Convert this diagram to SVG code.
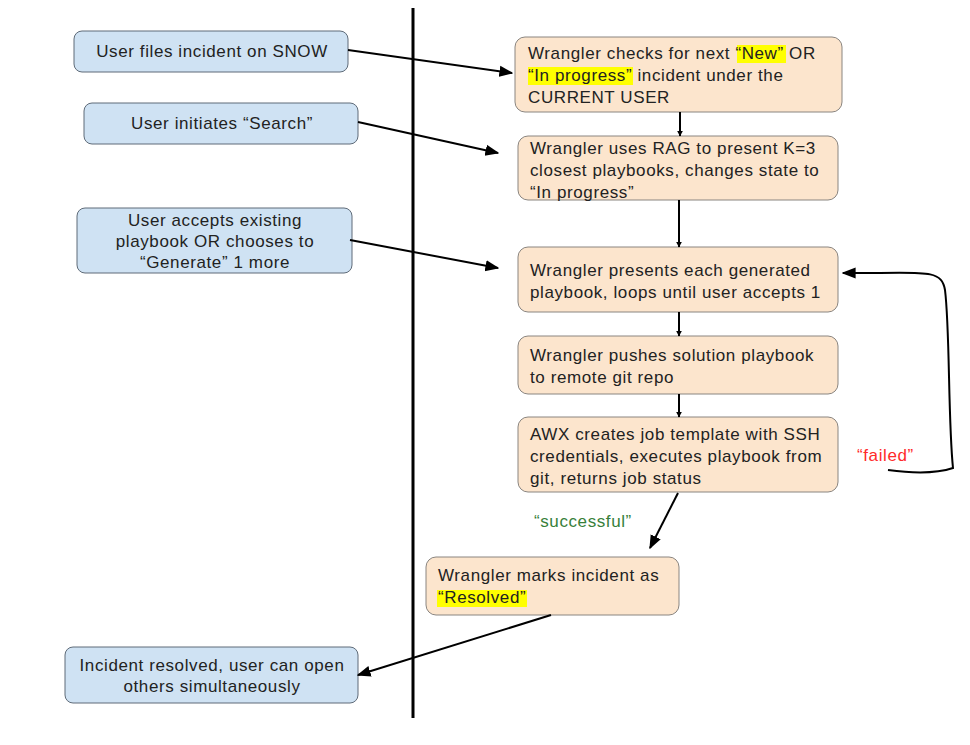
<svg xmlns="http://www.w3.org/2000/svg" width="970" height="745" viewBox="0 0 970 745">
<style>
.u{fill:#cfe2f3;stroke:#5f6b78;stroke-width:1}
.w{fill:#fce5cd;stroke:#8a8580;stroke-width:1}
text{font-family:"Liberation Sans",Arial,sans-serif;font-size:17px;letter-spacing:0.6px;fill:#222}
.c{text-anchor:middle}
.hl{fill:#ffff00}
.ln{stroke:#000;stroke-width:2;fill:none}
</style>
<defs>
<marker id="ah" viewBox="0 0 10 10" refX="9" refY="5" markerWidth="6" markerHeight="6" orient="auto" markerUnits="userSpaceOnUse">
<path d="M0,0 L10,5 L0,10 z" fill="#000"/>
</marker>
<marker id="ahb" viewBox="0 0 10 10" refX="9" refY="5" markerWidth="14" markerHeight="14" orient="auto" markerUnits="userSpaceOnUse">
<path d="M0,1 L10,5 L0,9 z" fill="#000"/>
</marker>
</defs>
<rect width="970" height="745" fill="#fff"/>
<line x1="413" y1="8" x2="413" y2="718" stroke="#000" stroke-width="3"/>

<g id="u1"><rect class="u" x="74" y="31" width="274" height="41" rx="8"/><text class="c" x="212" y="57">User files incident on SNOW</text></g>
<g id="u2"><rect class="u" x="84" y="103" width="274" height="41" rx="8"/><text class="c" x="222" y="129">User initiates “Search”</text></g>
<g id="u3"><rect class="u" x="77" y="208" width="275" height="65" rx="8"/><text class="c" x="215" y="226">User accepts existing<tspan x="215" dy="21">playbook OR chooses to</tspan><tspan x="215" dy="21">“Generate” 1 more</tspan></text></g>
<g id="u4"><rect class="u" x="65" y="647" width="293" height="56" rx="8"/><text class="c" x="212" y="671">Incident resolved, user can open<tspan x="212" dy="21">others simultaneously</tspan></text></g>

<g id="w1"><rect class="w" x="515" y="37" width="327" height="75" rx="10"/>
<rect class="hl" x="737" y="45" width="49" height="18"/><rect class="hl" x="528" y="67" width="105" height="18"/>
<text x="528" y="59">Wrangler checks for next “New” OR<tspan x="528" dy="22">“In progress” incident under the</tspan><tspan x="528" dy="22">CURRENT USER</tspan></text></g>
<g id="w2"><rect class="w" x="518" y="136" width="320" height="64" rx="10"/>
<text x="530" y="154">Wrangler uses RAG to present K=3<tspan x="530" dy="22">closest playbooks, changes state to</tspan><tspan x="530" dy="22">“In progress”</tspan></text></g>
<g id="w3"><rect class="w" x="518" y="247" width="320" height="65" rx="10"/>
<text x="530" y="276">Wrangler presents each generated<tspan x="530" dy="22">playbook, loops until user accepts 1</tspan></text></g>
<g id="w4"><rect class="w" x="518" y="336" width="320" height="58" rx="10"/>
<text x="530" y="361">Wrangler pushes solution playbook<tspan x="530" dy="22">to remote git repo</tspan></text></g>
<g id="w5"><rect class="w" x="518" y="417" width="320" height="75" rx="10"/>
<text x="530" y="440">AWX creates job template with SSH<tspan x="530" dy="22">credentials, executes playbook from</tspan><tspan x="530" dy="22">git, returns job status</tspan></text></g>
<g id="w6"><rect class="w" x="426" y="557" width="253" height="58" rx="10"/>
<rect class="hl" x="437" y="590" width="90" height="17"/>
<text x="438" y="581">Wrangler marks incident as<tspan x="438" dy="22">“Resolved”</tspan></text></g>

<g id="connectors">
<line class="ln" x1="348" y1="50" x2="512" y2="73" marker-end="url(#ahb)"/>
<line class="ln" x1="358" y1="122" x2="498" y2="153" marker-end="url(#ahb)"/>
<line class="ln" x1="350" y1="240" x2="498" y2="268" marker-end="url(#ahb)"/>
<line class="ln" x1="680" y1="112" x2="680" y2="136" stroke-width="1.5" marker-end="url(#ah)"/>
<line class="ln" x1="679" y1="200" x2="679" y2="247" stroke-width="1.5" marker-end="url(#ah)"/>
<line class="ln" x1="679" y1="312" x2="679" y2="336" stroke-width="1.5" marker-end="url(#ah)"/>
<line class="ln" x1="679" y1="394" x2="679" y2="417" stroke-width="1.5" marker-end="url(#ah)"/>
<path class="ln" d="M888,470 C910,473 935,474 953,468 C948,420 950,330 945,290 C942,272 930,272 880,273 L843,273" marker-end="url(#ahb)"/>
<line class="ln" x1="678" y1="493" x2="650" y2="548" marker-end="url(#ahb)"/>
<line class="ln" x1="551" y1="615" x2="358" y2="675" marker-end="url(#ahb)"/>
<text x="857" y="461" style="fill:#ff2a2a">“failed”</text>
<text x="534" y="527" style="fill:#38803a">“successful”</text>
</g>
</svg>
